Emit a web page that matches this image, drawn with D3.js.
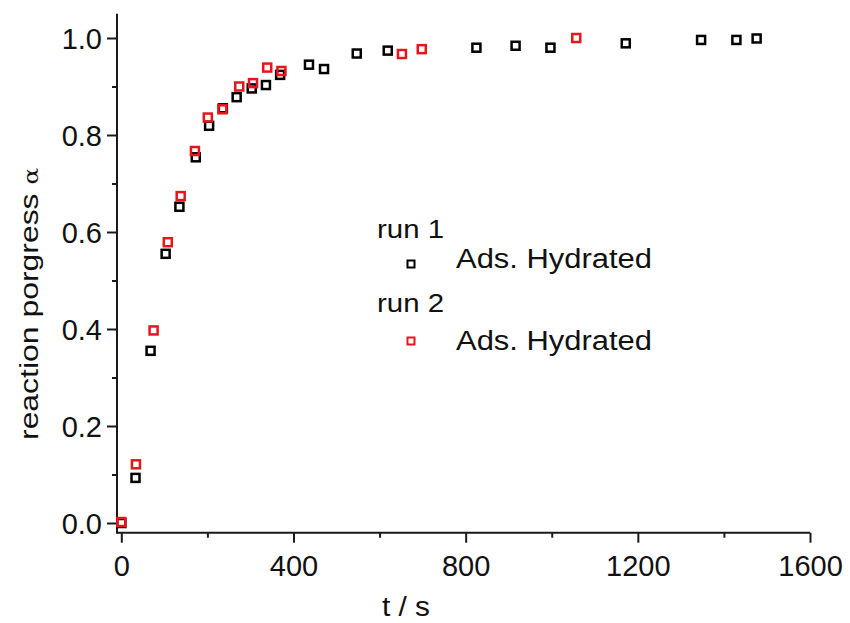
<!DOCTYPE html>
<html>
<head>
<meta charset="utf-8">
<script src="https://cdn.jsdelivr.net/npm/d3@7"></script>
<style>
  html, body { margin: 0; padding: 0; background: #fff; }
  svg { display: block; font-family: "Liberation Sans", Arial, sans-serif; }
</style>
</head>
<body>
<svg id="chart" width="850" height="623"></svg>
<script>
// ---- data ----
const run1T = [0, 33, 68, 103, 135, 173, 204, 236, 268, 303, 336, 369, 436, 471, 547, 619, 825, 916, 997, 1172, 1347, 1429, 1476];
const run1A = [0.0, 0.093, 0.355, 0.555, 0.652, 0.754, 0.819, 0.855, 0.878, 0.896, 0.903, 0.924, 0.945, 0.936, 0.968, 0.974, 0.980, 0.984, 0.980, 0.989, 0.996, 0.996, 0.999];
const run2T = [0, 34, 75, 108, 138, 171, 201, 235, 274, 306, 339, 372, 652, 698, 1057];
const run2A = [0.002, 0.121, 0.397, 0.579, 0.674, 0.767, 0.836, 0.853, 0.900, 0.907, 0.939, 0.932, 0.967, 0.977, 1.0];
const xMajorTicks = [0, 400, 800, 1200, 1600];
const xMinorTicks = [200, 600, 1000, 1400];
const yMajorTicks = [0.0, 0.2, 0.4, 0.6, 0.8, 1.0];
const yMinorTicks = [0.1, 0.3, 0.5, 0.7, 0.9];
const seriesNames = ["run 1", "run 2"];
const legendLabel = "Ads. Hydrated";
const seriesColors = ["#000000", "#e8141c"];

const svg = d3.select("#chart");
const x = d3.scaleLinear().domain([-10, 1600]).range([117, 810]);
const y = d3.scaleLinear().domain([-0.02, 1.05]).range([532.7, 13.75]);

const axisColor = "#1a1a1a";

// x axis
const gx = svg.append("g").attr("transform", `translate(0,${y.range()[0]})`);
gx.call(d3.axisBottom(x).tickValues(xMajorTicks).tickSize(10).tickPadding(6).tickFormat(d3.format("d")));
const gxm = svg.append("g").attr("transform", `translate(0,${y.range()[0]})`);
gxm.call(d3.axisBottom(x).tickValues(xMinorTicks).tickSize(5).tickFormat(""));
gxm.select(".domain").remove();

// y axis
const gy = svg.append("g").attr("transform", `translate(${x.range()[0]},0)`);
gy.call(d3.axisLeft(y).tickValues(yMajorTicks).tickSize(10).tickPadding(5).tickFormat(d3.format(".1f")));
const gym = svg.append("g").attr("transform", `translate(${x.range()[0]},0)`);
gym.call(d3.axisLeft(y).tickValues(yMinorTicks).tickSize(5).tickFormat(""));
gym.select(".domain").remove();

[gx, gxm, gy, gym].forEach(g => {
  g.selectAll(".domain").attr("stroke", axisColor).attr("stroke-width", 2).attr("d", null);
  g.selectAll(".tick line").attr("stroke", axisColor).attr("stroke-width", 2);
  g.selectAll(".tick text").attr("fill", "#111").style("font-size", "29px").style("font-family", "'Liberation Sans', Arial, sans-serif");
});
// redraw domains as simple lines (no end caps)
gx.select(".domain").remove();
gy.select(".domain").remove();
svg.append("line").attr("x1", x.range()[0]).attr("x2", x.range()[1]).attr("y1", y.range()[0]).attr("y2", y.range()[0])
  .attr("stroke", axisColor).attr("stroke-width", 2);
svg.append("line").attr("x1", x.range()[0]).attr("x2", x.range()[0]).attr("y1", y.range()[0] + 1).attr("y2", y.range()[1])
  .attr("stroke", axisColor).attr("stroke-width", 2);
gx.selectAll(".tick text").attr("dy", "0.95em");
gy.selectAll(".tick text").attr("dy", "0.36em");

// axis titles
svg.append("text").attr("x", 406).attr("y", 616).attr("text-anchor", "middle")
  .style("font-size", "27px").attr("fill", "#111")
  .attr("textLength", 48).attr("lengthAdjust", "spacingAndGlyphs")
  .text("t / s");

const yt = svg.append("text").attr("transform", "translate(38,304) rotate(-90)").attr("text-anchor", "middle")
  .style("font-size", "26px").attr("fill", "#111")
  .attr("textLength", 272).attr("lengthAdjust", "spacingAndGlyphs");
yt.append("tspan").text("reaction porgress ");
yt.append("tspan").style("font-size", "20px").style("font-family", "'DejaVu Serif', serif").text("α");

// data points
const series = [
  run1T.map((t, i) => ({t, a: run1A[i]})),
  run2T.map((t, i) => ({t, a: run2A[i]}))
];
const ms = 8;
series.forEach((pts, si) => {
  svg.append("g").selectAll("rect").data(pts).join("rect")
    .attr("x", d => x(d.t) - ms / 2).attr("y", d => y(d.a) - ms / 2)
    .attr("width", ms).attr("height", ms)
    .attr("fill", "none").attr("stroke", seriesColors[si]).attr("stroke-width", 2.5);
});

// legend
const legendRows = [
  {title: seriesNames[0], titleY: 237.7, markY: 264, labelY: 267.7, color: seriesColors[0]},
  {title: seriesNames[1], titleY: 312.3, markY: 341, labelY: 350, color: seriesColors[1]}
];
legendRows.forEach(r => {
  svg.append("text").attr("x", 377).attr("y", r.titleY).style("font-size", "26px").attr("fill", "#111")
    .attr("textLength", 67).attr("lengthAdjust", "spacingAndGlyphs").text(r.title);
  svg.append("rect").attr("x", 411 - 3.5).attr("y", r.markY - 3.5).attr("width", 7).attr("height", 7)
    .attr("fill", "none").attr("stroke", r.color).attr("stroke-width", 2);
  svg.append("text").attr("x", 456).attr("y", r.labelY).style("font-size", "27px").attr("fill", "#111")
    .attr("textLength", 196).attr("lengthAdjust", "spacingAndGlyphs").text(legendLabel);
});
</script>
</body>
</html>
